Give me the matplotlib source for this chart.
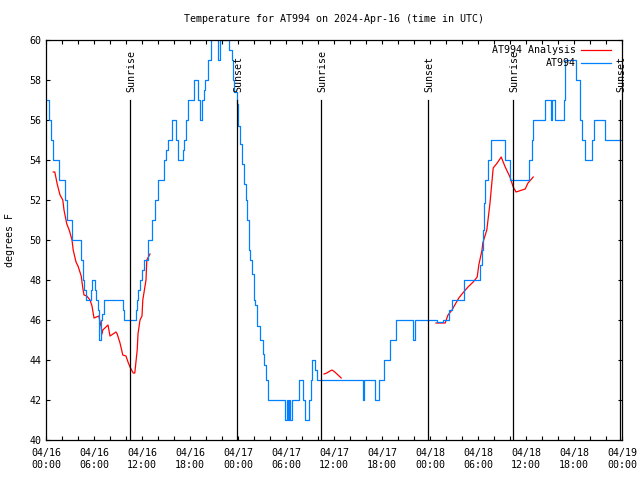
import numpy as np
import matplotlib.pyplot as plt

# hours since 2024-04-16 00:00 UTC
obs_h = [0.1, 0.35, 0.6, 0.85, 1.65, 2.4, 2.6, 3.3, 4.4, 4.6, 4.7, 5.0, 5.6, 5.75,
         6.1, 6.3, 6.5, 6.65, 6.85, 7.0, 7.3, 9.6, 9.75, 11.25, 11.4, 11.55, 11.75,
         12.0, 12.25, 12.75, 13.2, 13.6, 14.0, 14.7, 15.0, 15.3, 15.7, 16.3, 16.5,
         17.1, 17.3, 17.5, 17.7, 18.5, 19.0, 19.25, 19.5, 19.7, 19.9, 20.3, 20.6,
         21.5, 21.75, 22.9, 23.2, 23.4, 23.55, 23.85, 24.05, 24.25, 24.55, 24.75,
         24.95, 25.15, 25.35, 25.5, 25.75, 26.0, 26.15, 26.4, 26.75, 27.1, 27.3,
         27.5, 27.8, 28.0, 28.2, 28.4, 29.9, 30.1, 30.25, 30.4, 30.5, 30.7, 31.6,
         31.85, 32.1, 32.4, 32.9, 33.1, 33.3, 33.6, 33.9, 39.6, 39.8, 41.1, 41.35,
         41.6, 42.25, 43.0, 43.8, 45.9, 46.1, 48.9, 49.6, 50.4, 50.7, 52.3, 54.2,
         54.5, 54.6, 54.75, 54.9, 55.3, 55.6, 57.4, 58.0, 60.4, 60.7, 60.9, 62.4,
         63.1, 63.3, 63.6, 64.7, 64.9, 66.3, 66.7, 67.0, 67.4, 68.2, 68.5, 69.9, 72.0]
obs_t = [57, 56, 55, 54, 53, 52, 51, 50, 49, 48, 47.5, 47, 47.5, 48,
         47.5, 47, 46.5, 45, 46, 46.3, 47, 46.5, 46, 46.5, 47, 47.5, 48,
         48.5, 49, 50, 51, 52, 53, 54, 54.5, 55, 56, 55, 54,
         54.5, 55, 56, 57, 58, 57, 56, 57, 57.5, 58, 59, 60.5,
         59, 60, 59.5, 59, 58, 57.4, 56.8, 55.7, 54.8, 53.8, 52.8,
         52, 51, 49.5, 49, 48.3, 47, 46.75, 45.7, 45, 44.3, 43.75,
         43, 42, 42, 42, 42, 41, 42, 41, 42, 41, 42, 43,
         43, 42, 41, 42, 43, 44, 43.5, 43, 42, 43, 42, 42,
         43, 44, 45, 46, 45, 46, 45.9, 46, 46.5, 47, 48, 48.75,
         49.5, 50.5, 51.85, 53, 54, 55, 54, 53, 54, 55, 56, 57,
         56, 57, 56, 57, 59, 58, 56, 55, 54, 55, 56, 55, 55]

ana_h = [0.9, 1.1, 1.4, 1.75, 2.1, 2.25, 2.6, 2.9, 3.25, 3.4, 3.75, 4.0, 4.4, 4.6,
         4.75, 5.1, 5.5, 5.75, 6.0, 6.6, 6.9, 7.0, 7.1, 7.75, 8.0, 8.75, 8.9, 9.25,
         9.6, 10.0, 10.25, 10.5, 10.9, 11.1, 11.4, 11.5, 11.75, 12.0, 12.1, 12.5,
         12.6, 13.0, np.nan,
         34.75, 35.1, 35.5, 35.75, 36.1, 36.5, 36.9, np.nan,
         48.75, 49.9, 50.25, 50.75, 51.1, 51.6, 52.1, 52.75, 53.4, 53.9, 54.1, 54.5,
         54.6, 55.1, 55.5, 55.9, 56.4, 56.9, 57.4, 58.0, 58.4, 58.75, 59.9, 60.25, 60.9]
ana_t = [53.4, 53.4, 52.8, 52.25, 52, 51.5, 50.8, 50.5, 50, 49.5, 48.9, 48.7, 48.2, 47.6,
         47.25, 47.2, 47.0, 46.7, 46.1, 46.2, 45.65, 45.3, 45.5, 45.75, 45.2, 45.4, 45.3, 44.85,
         44.25, 44.2, 43.9, 43.65, 43.35, 43.35, 44.5, 45.3, 46, 46.2, 47, 48,
         49, 49.3, np.nan,
         43.3, 43.35, 43.45, 43.5, 43.4, 43.25, 43.1, np.nan,
         45.85, 45.85, 46.25, 46.5, 46.75, 47.1, 47.35, 47.65, 47.9, 48.15, 48.75, 49.5,
         49.85, 50.5, 51.85, 53.6, 53.85, 54.15, 53.65, 53.15, 52.65, 52.4, 52.55, 52.85, 53.15]

sun_h = [10.5, 23.875, 34.375, 47.75, 58.375, 71.75]
sun_lbl = ["Sunrise", "Sunset", "Sunrise", "Sunset", "Sunrise", "Sunset"]

tick_h = [0, 6, 12, 18, 24, 30, 36, 42, 48, 54, 60, 66, 72]
tick_lbl = ["04/16\n00:00", "04/16\n06:00", "04/16\n12:00", "04/16\n18:00",
            "04/17\n00:00", "04/17\n06:00", "04/17\n12:00", "04/17\n18:00",
            "04/18\n00:00", "04/18\n06:00", "04/18\n12:00", "04/18\n18:00",
            "04/19\n00:00"]

plt.rcParams['font.family'] = 'DejaVu Sans Mono'
plt.rcParams['font.size'] = 7.2

fig = plt.figure(figsize=(6.4, 4.8), dpi=100)
ax = fig.add_axes([46 / 640, 40 / 480, 576 / 640, 400 / 480])

ax.plot(ana_h, ana_t, color="#ff0000", lw=0.9, label="AT994 Analysis")
ax.plot(obs_h, obs_t, color="#0080ff", lw=0.9, drawstyle="steps-post", label="AT994")

for h, s in zip(sun_h, sun_lbl):
    ax.plot([h, h], [40, 57.0], color="black", lw=0.9)
    ax.text(h + 0.2, 57.4, s, rotation=90, ha="center", va="bottom", clip_on=False)

ax.set_xlim(0, 72)
ax.set_ylim(40, 60)
ax.set_xticks(tick_h)
ax.set_xticklabels(tick_lbl)
ax.set_xticks(np.arange(0, 73, 2), minor=True)
ax.set_yticks(np.arange(40, 61, 2))
ax.tick_params(which="both", direction="in", top=True, right=True, length=3, width=0.8)
ax.tick_params(axis="x", pad=6)
for sp in ax.spines.values():
    sp.set_linewidth(0.9)

ax.set_ylabel("degrees F", labelpad=10)
ax.set_title("Temperature for AT994 on 2024-Apr-16 (time in UTC)", fontsize=7.2, pad=13)

leg = ax.legend(loc="upper right", bbox_to_anchor=(1.0, 1.0 + 6 / 400),
                frameon=False, markerfirst=False,
                handlelength=3.0, borderaxespad=0.7, labelspacing=0.35,
                handletextpad=0.5)
for t in leg.get_texts():
    t.set_ha("right")

fig.savefig("out.png", dpi=100)
